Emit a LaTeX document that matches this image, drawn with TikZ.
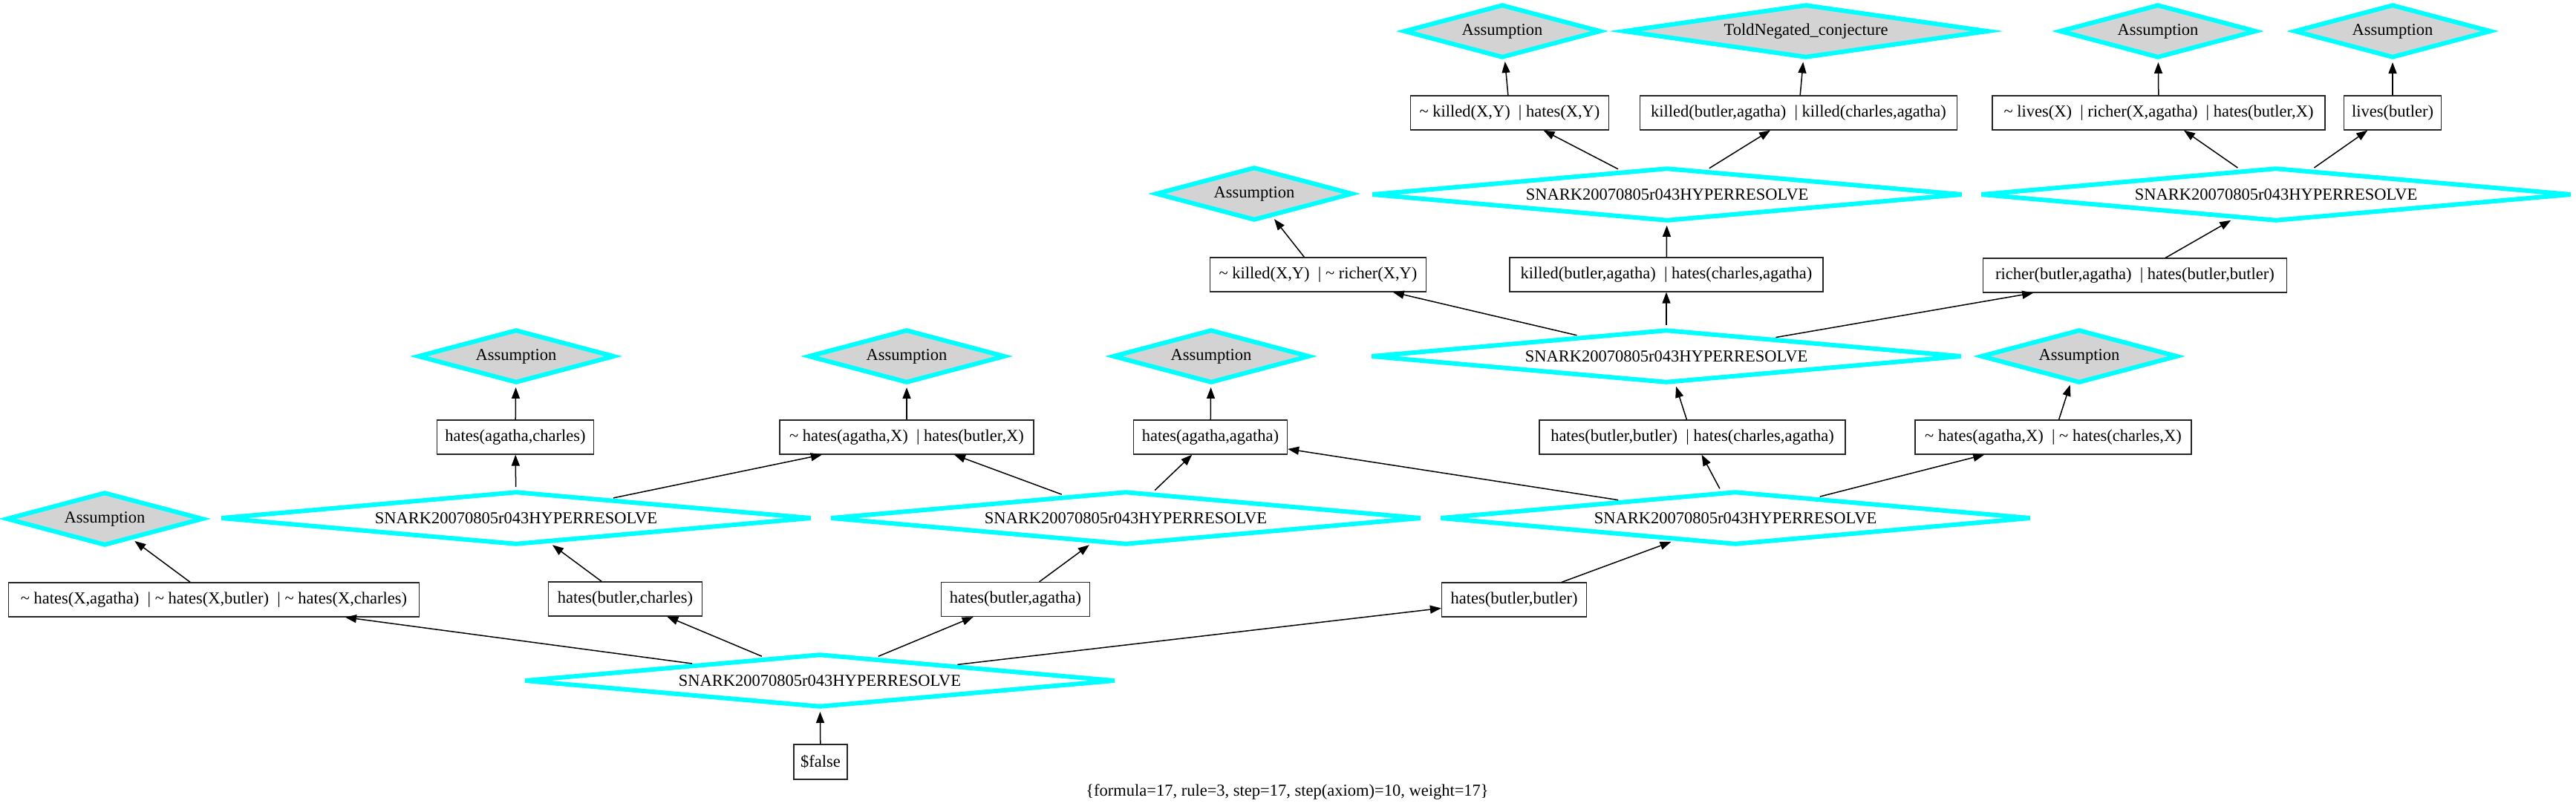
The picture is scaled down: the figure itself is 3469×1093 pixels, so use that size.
\documentclass[tikz,border=0pt]{standalone}
\usepackage{fontspec}
\setmainfont{Liberation Serif}
\usetikzlibrary{shapes.geometric,arrows.meta}
\definecolor{cyanx}{RGB}{0,255,255}
\definecolor{lgray}{RGB}{211,211,211}
\newcommand{\tld}{\textasciitilde\ }
\begin{document}
\begin{tikzpicture}[x=1pt,y=-1pt,
  every node/.style={font=\fontsize{22.5}{27}\selectfont},
  snark/.style={diamond, aspect=11, draw=cyanx, line width=6pt, line join=bevel, fill=white,
    minimum width=796pt, minimum height=72pt, inner sep=0pt},
  assum/.style={diamond, aspect=3.7, draw=cyanx, line width=6pt, line join=miter, fill=lgray,
    minimum width=265pt, minimum height=72pt, inner sep=0pt},
  told/.style={assum, aspect=6.8, minimum width=491pt},
  clause/.style={rectangle, draw=black!85, line width=1.3pt, fill=white,
    minimum height=46pt, inner sep=0pt},
  edge/.style={-{Triangle[length=15pt,width=11pt]}, line width=1.5pt},
  toD/.style={shorten >=3pt},
  fromD/.style={shorten <=3pt}]
\useasboundingbox (0,0) rectangle (3469,1093);
\fill[white] (0,0) rectangle (3469,1093);
% row A
\node[assum] (a1) at (2023,42) {Assumption};
\node[told] (tn) at (2432,42) {ToldNegated\_conjecture};
\node[assum] (a3) at (2906,42) {Assumption};
\node[assum] (a4) at (3222,42) {Assumption};
% row B
\node[clause, minimum width=267pt] (b1) at (2033,152) {\tld killed(X,Y)\ \ | hates(X,Y)};
\node[clause, minimum width=427pt] (b2) at (2422,152) {killed(butler,agatha)\ \ | killed(charles,agatha)};
\node[clause, minimum width=448pt] (b3) at (2907,152) {\tld lives(X)\ \ | richer(X,agatha)\ \ | hates(butler,X)};
\node[clause, minimum width=131pt] (b4) at (3222,152) {lives(butler)};
% row C
\node[assum] (a2) at (1689,261) {Assumption};
\node[snark] (s1) at (2245,262) {SNARK20070805r043HYPERRESOLVE};
\node[snark] (s2) at (3065,262) {SNARK20070805r043HYPERRESOLVE};
% row D
\node[clause, minimum width=291pt] (d1) at (1775,370) {\tld killed(X,Y)\ \ | \tld richer(X,Y)};
\node[clause, minimum width=422pt] (d2) at (2244,370) {killed(butler,agatha)\ \ | hates(charles,agatha)};
\node[clause, minimum width=409pt] (d3) at (2875,371) {richer(butler,agatha)\ \ | hates(butler,butler)};
% row E
\node[assum] (a5) at (695,480) {Assumption};
\node[assum] (a6) at (1221,480) {Assumption};
\node[assum] (a7) at (1631,480) {Assumption};
\node[snark] (s3) at (2244,480) {SNARK20070805r043HYPERRESOLVE};
\node[assum] (a8) at (2800,480) {Assumption};
% row F
\node[clause, minimum width=211pt] (f1) at (694,589) {hates(agatha,charles)};
\node[clause, minimum width=342pt] (f2) at (1221,589) {\tld hates(agatha,X)\ \ | hates(butler,X)};
\node[clause, minimum width=207pt] (f3) at (1630,589) {hates(agatha,agatha)};
\node[clause, minimum width=412pt] (f4) at (2279,589) {hates(butler,butler)\ \ | hates(charles,agatha)};
\node[clause, minimum width=372pt] (f5) at (2765,589) {\tld hates(agatha,X)\ \ | \tld hates(charles,X)};
% row G
\node[assum] (a9) at (141,699) {Assumption};
\node[snark] (s4) at (695,698) {SNARK20070805r043HYPERRESOLVE};
\node[snark] (s5) at (1516,698) {SNARK20070805r043HYPERRESOLVE};
\node[snark] (s6) at (2337,698) {SNARK20070805r043HYPERRESOLVE};
% row H
\node[clause, minimum width=553pt] (h1) at (288,808) {\tld hates(X,agatha)\ \ | \tld hates(X,butler)\ \ | \tld hates(X,charles)};
\node[clause, minimum width=207pt] (h2) at (842,807) {hates(butler,charles)};
\node[clause, minimum width=200pt] (h3) at (1367.5,807.5) {hates(butler,agatha)};
\node[clause, minimum width=195pt] (h4) at (2039,808) {hates(butler,butler)};
% row I, J
\node[snark] (s7) at (1104,917) {SNARK20070805r043HYPERRESOLVE};
\node[clause, minimum width=72pt, minimum height=47pt] (fa) at (1105,1026.5) {\$false};
\node[inner sep=0pt] (leg) at (1733.5,1067) {\{formula=17, rule=3, step=17, step(axiom)=10, weight=17\}};
% edges
\draw[edge,toD] (b1) -- (a1);
\draw[edge,toD] (b2) -- (tn);
\draw[edge,toD] (b3) -- (a3);
\draw[edge,toD] (b4) -- (a4);
\draw[edge,fromD] (s1) -- (b1);
\draw[edge,fromD] (s1) -- (b2);
\draw[edge,fromD] (s2) -- (b3);
\draw[edge,fromD] (s2) -- (b4);
\draw[edge,toD] (d1) -- (a2);
\draw[edge,toD] (d2) -- (s1);
\draw[edge,toD] (d3) -- (s2);
\draw[edge,fromD] (s3) -- (d1);
\draw[edge,fromD] (s3) -- (d2);
\draw[edge,fromD] (s3) -- (d3);
\draw[edge,toD] (f1) -- (a5);
\draw[edge,toD] (f2) -- (a6);
\draw[edge,toD] (f3) -- (a7);
\draw[edge,toD] (f4) -- (s3);
\draw[edge,toD] (f5) -- (a8);
\draw[edge,fromD] (s4) -- (f1);
\draw[edge,fromD] (s4) -- (f2);
\draw[edge,fromD] (s5) -- (f2);
\draw[edge,fromD] (s5) -- (f3);
\draw[edge,fromD] (s6) -- (f3);
\draw[edge,fromD] (s6) -- (f4);
\draw[edge,fromD] (s6) -- (f5);
\draw[edge,toD] (h1) -- (a9);
\draw[edge,toD] (h2) -- (s4);
\draw[edge,toD] (h3) -- (s5);
\draw[edge,toD] (h4) -- (s6);
\draw[edge,fromD] (s7) -- (h1);
\draw[edge,fromD] (s7) -- (h2);
\draw[edge,fromD] (s7) -- (h3);
\draw[edge,fromD] (s7) -- (h4);
\draw[edge,toD] (fa) -- (s7);
\end{tikzpicture}
\end{document}
